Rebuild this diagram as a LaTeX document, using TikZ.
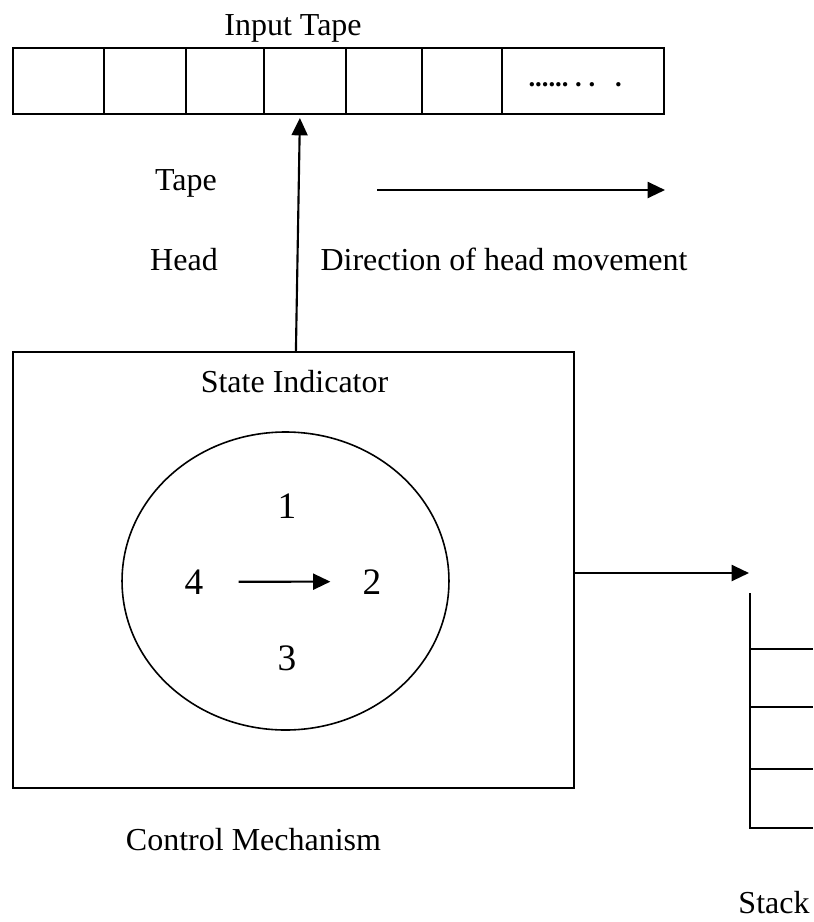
\documentclass[tikz,border=0pt]{standalone}
\usepackage{fontspec}
\setmainfont{Liberation Serif}
\usetikzlibrary{positioning, arrows.meta, shapes.geometric}

\begin{document}
\begin{tikzpicture}[x=0.375pt, y=-0.375pt, every node/.style={font=\fontsize{12}{14}\selectfont},
      cell/.style={draw, line width=0.8pt, minimum height=24.75pt, inner sep=0pt, outer sep=0pt},
      lbl/.style={anchor=base, inner sep=0pt},
      num/.style={anchor=base, inner sep=0pt, font=\fontsize{14}{16}\selectfont},
      arr/.style={-{Triangle[length=6.5pt, width=6pt]}, line width=0.8pt}]
    \useasboundingbox (0,0) rectangle (813,922);

    % input tape
    \node[lbl] (intape) at (293,35) {Input Tape};
    \node[cell, minimum width=34.1pt] (c1) at (58.5,81) {};
    \node[cell, minimum width=30.75pt, right=0pt of c1] (c2) {};
    \node[cell, minimum width=29.25pt, right=0pt of c2] (c3) {};
    \node[cell, minimum width=30.75pt, right=0pt of c3] (c4) {};
    \node[cell, minimum width=28.5pt, right=0pt of c4] (c5) {};
    \node[cell, minimum width=30pt, right=0pt of c5] (c6) {};
    \node[cell, minimum width=60.75pt, right=0pt of c6] (c7) {};
    \node[anchor=base west, inner sep=0pt, font=\fontsize{10}{11}\selectfont\bfseries] (dots) at (528,86) {......\ .\ .\ \ \ .};

    % head and its direction
    \node[lbl] (tapelbl) at (186,190) {Tape};
    \node[lbl] (headlbl) at (184,270) {Head};
    \node[lbl, anchor=base west] (dirlbl) at (320,270) {Direction of head movement};
    \coordinate (dirfrom) at (377,190);
    \coordinate (dirto) at (665,190);
    \draw[arr] (dirfrom) -- (dirto);

    % control mechanism
    \node[draw, line width=0.8pt, minimum width=210.4pt, minimum height=163.5pt, inner sep=0pt, outer sep=0pt] (ctrl) at (293.5,570) {};
    \node[lbl] (statelbl) at (294.5,392) {State Indicator};
    \node[ellipse, draw, line width=0.6pt, minimum width=122.6pt, minimum height=111.75pt, inner sep=0pt, outer sep=0pt] (states) at (285.5,581) {};
    \node[num] (n1) at (287,518) {1};
    \node[num] (n2) at (372,594) {2};
    \node[num] (n3) at (287,670) {3};
    \node[num] (n4) at (194,594) {4};
    \draw[arr, shorten <=13pt, shorten >=11.9pt] (n4) -- (n2);
    \node[lbl] (ctrllbl) at (253.5,850) {Control Mechanism};

    \draw[arr] ([xshift=0.9pt]ctrl.north) -- ([xshift=-1.9pt, yshift=-1.5pt]c4.south);

    % stack
    \coordinate (stacktop) at (749,573);
    \draw[arr] (ctrl.east |- stacktop) -- (stacktop);
    \draw[line width=0.8pt] (750,593) -- (750,828) -- (813,828);
    \foreach \y in {649,707,769}
      \draw[line width=0.8pt] (750,\y) -- (813,\y);
    \node[lbl] (stacklbl) at (774,913) {Stack};
  \end{tikzpicture}
\end{document}
